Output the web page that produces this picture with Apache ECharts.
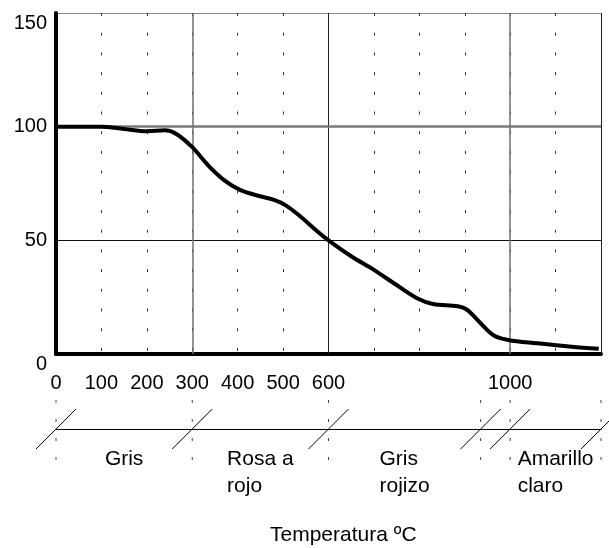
<!DOCTYPE html>
<html>
<head>
<meta charset="utf-8">
<script src="https://cdn.jsdelivr.net/npm/echarts@6/dist/echarts.min.js"></script>
<style>
  html, body { margin: 0; padding: 0; background: #fff; }
  #chart { width: 609px; height: 548px; }
</style>
</head>
<body>
<div id="chart"></div>
<script>
// Thermal curve: mass vs temperature, with colour bands under the axis

const tempC = [0, 100, 150, 200, 240, 265, 300, 335, 370, 405, 445, 480, 505, 535, 575, 600,
  650, 700, 745, 795, 830, 885, 905, 935, 965, 995, 1060, 1135, 1195];
const massPct = [100, 100, 99, 98, 98.4, 96.8, 91, 83, 76.5, 72.2, 69.6, 67.8, 65.5, 61, 54, 50,
  43, 37, 31, 24.5, 22, 21, 19.5, 13.5, 8, 6.2, 4.7, 3.2, 2.3];

const xTickLabels = [0, 100, 200, 300, 400, 500, 600, 1000];
const solidGridX = [300, 600, 1000, 1200];

const bandEdges = [0, 300, 600, 935, 1000, 1200];
const bandStart = [0, 300, 600, 1000];
const bandEnd = [300, 600, 935, 1200];
const bandNames = ['Gris', 'Rosa a\nrojo', 'Gris\nrojizo', 'Amarillo\nclaro'];

const axisTitle = 'Temperatura ºC';

const FONT = '"Liberation Sans", Arial, sans-serif';

(function () {
  const chart = echarts.init(document.getElementById('chart'), null, { renderer: 'canvas' });

  // measure text so multi-line labels can be left-aligned but centred as a block
  const ctx = document.createElement('canvas').getContext('2d');
  ctx.font = '21px ' + FONT;
  const blockWidth = s => Math.max(...s.split('\n').map(l => ctx.measureText(l).width));

  const curve = tempC.map((t, i) => [t, massPct[i]]);
  const bands = bandNames.map((n, i) => [(bandStart[i] + bandEnd[i]) / 2, 0, n]);

  const gridLines = solidGridX.map(v => ({
    xAxis: v,
    lineStyle: {
      color: v === 600 || v === 1200 ? '#222' : '#6e6e6e',
      width: v === 600 || v === 1200 ? 1 : 1.5,
      type: 'solid'
    }
  }));
  gridLines.push({ yAxis: 100, lineStyle: { color: '#7a7a7a', width: 2.5, type: 'solid' } });

  const option = {
    animation: false,
    textStyle: { fontFamily: FONT },
    grid: [
      { left: 56, top: 13, right: 8, bottom: 194 },
      { left: 56, right: 8, top: 399, height: 60 }
    ],
    xAxis: [
      {
        type: 'value', gridIndex: 0, min: 0, max: 1200, interval: 100,
        axisLine: { onZero: false, lineStyle: { color: '#000', width: 4 } },
        axisTick: { show: false },
        axisLabel: {
          color: '#000', fontSize: 20, fontFamily: FONT, margin: 19,
          formatter: v => xTickLabels.includes(v) ? String(v) : ''
        },
        splitLine: { show: true, lineStyle: { color: '#333', width: 1, type: [3, 16.7] } }
      },
      {
        type: 'value', gridIndex: 1, min: 0, max: 1200,
        axisLine: { onZero: true, lineStyle: { color: '#000', width: 1 } },
        axisTick: { show: false },
        axisLabel: { show: false },
        splitLine: { show: false }
      }
    ],
    yAxis: [
      {
        type: 'value', gridIndex: 0, min: 0, max: 150, interval: 50,
        axisLine: { show: true, lineStyle: { color: '#000', width: 4 } },
        axisTick: { show: false },
        axisLabel: {
          color: '#000', fontSize: 20, fontFamily: FONT, margin: 9,
          verticalAlignMaxLabel: 'top', verticalAlignMinLabel: 'top'
        },
        splitLine: { show: true, lineStyle: { color: ['#000', '#111', '#7a7a7a', '#888'], width: 1 } }
      },
      { type: 'value', gridIndex: 1, min: -1, max: 1, show: false }
    ],
    series: [
      {
        // solid gridlines
        type: 'line', xAxisIndex: 0, yAxisIndex: 0, data: [], z: 1, silent: true,
        markLine: { silent: true, symbol: 'none', label: { show: false }, data: gridLines }
      },
      {
        name: 'Masa', type: 'line', xAxisIndex: 0, yAxisIndex: 0, z: 5,
        data: curve, smooth: 0.35, symbol: 'none',
        lineStyle: { color: '#000', width: 4 }
      },
      {
        // band edges: dashed marker and slash
        type: 'custom', xAxisIndex: 1, yAxisIndex: 1, silent: true,
        data: bandEdges.map(v => [v, 0]),
        renderItem: (params, api) => {
          const mid = api.coord([api.value(0), 0]);
          const top = api.coord([api.value(0), 1]);
          const bot = api.coord([api.value(0), -1]);
          return {
            type: 'group',
            children: [
              {
                type: 'line',
                shape: { x1: mid[0], y1: top[1] + 1, x2: mid[0], y2: bot[1] + 1 },
                style: { stroke: '#444', lineWidth: 1, lineDash: [3, 16] }
              },
              {
                type: 'line',
                shape: { x1: mid[0] - 20, y1: mid[1] + 20, x2: mid[0] + 20, y2: mid[1] - 20 },
                style: { stroke: '#000', lineWidth: 1 }
              }
            ]
          };
        }
      },
      {
        // band names
        type: 'custom', xAxisIndex: 1, yAxisIndex: 1, silent: true,
        data: bands,
        renderItem: (params, api) => {
          const name = bandNames[params.dataIndex];
          const p = api.coord([api.value(0), -1]);
          return {
            type: 'text',
            x: p[0] - blockWidth(name) / 2,
            y: p[1] - 13,
            style: {
              text: name, fill: '#000', font: '21px ' + FONT,
              textAlign: 'left', textVerticalAlign: 'top', lineHeight: 27
            }
          };
        }
      }
    ],
    graphic: [
      {
        type: 'text', left: 270, top: 525,
        style: { text: axisTitle, fill: '#000', font: '21px ' + FONT }
      }
    ]
  };

  chart.setOption(option);
  window.addEventListener('resize', () => chart.resize());
})();
</script>
</body>
</html>
